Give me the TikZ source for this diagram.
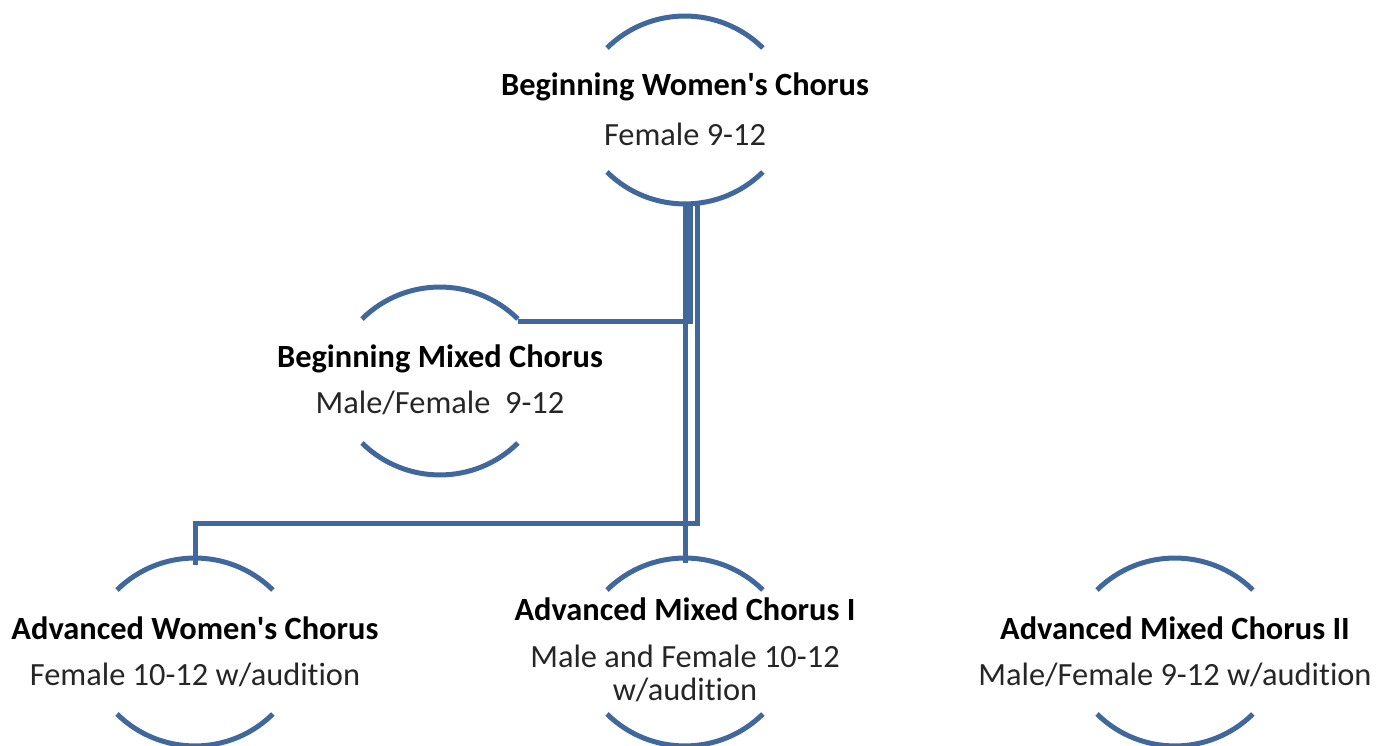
\documentclass[tikz,border=0pt]{standalone}
\usepackage{fontspec}
\setmainfont[Ligatures={NoCommon}]{Carlito}
\usetikzlibrary{calc}
\definecolor{arcblue}{RGB}{65,104,156}
\definecolor{subgray}{RGB}{38,38,38}
\tikzset{
  arcline/.style={draw=arcblue, line width=5pt},
  conn/.style={draw=arcblue, line width=5pt, line join=miter},
  title/.style={anchor=base, inner sep=0pt, font=\fontsize{32.4}{34}\selectfont\bfseries, text=black},
  sub/.style={anchor=base, inner sep=0pt, font=\fontsize{32.4}{33}\selectfont, text=subgray, align=center},
}
\begin{document}
\begin{tikzpicture}[x=1pt,y=1pt]
\useasboundingbox (0,0) rectangle (1389,746);
\fill[white] (0,0) rectangle (1389,746);
% circle centres
\coordinate (c1) at (685,636);
\coordinate (c2) at (440,365);
\coordinate (c3) at (195,94);
\coordinate (c4) at (685,94);
\coordinate (c5) at (1175,94);
% arcs
\foreach \c in {c1,c2,c3,c4,c5}{
  \draw[arcline] ($(\c)+(-78,62)$) arc[start angle=134.6, end angle=45.4, radius=111pt];
  \draw[arcline] ($(\c)+(-78,-62)$) arc[start angle=225.4, end angle=314.6, radius=111pt];
}
% connectors
\draw[conn] ($(c1)+(5,-94)$) |- ($(c2)+(78,59)$);
\draw[conn] ($(c1)+(0,-94)$) -- ($(c4)+(0,89)$);
\draw[conn] ($(c1)+(12,-94)$) |- ($(c3)+(0,128)$) -- ($(c3)+(0,87)$);
% texts
\node[title] (t1) at (685,650.5) {Beginning Women\textquotesingle s Chorus};
\node[sub]   (s1) at (685,600.5) {Female 9-12};
\node[title] (t2) at (440,378) {Beginning Mixed Chorus};
\node[sub]   (s2) at (440,332) {Male/Female\ \ 9-12};
\node[title] (t3) at (195,106.5) {Advanced Women\textquotesingle s Chorus};
\node[sub]   (s3) at (195,60.5) {Female 10-12 w/audition};
\node[title] (t4) at (685,125.5) {Advanced Mixed Chorus I};
\node[sub]   (s4) at (685,45) {Male and Female 10-12\\w/audition};
\node[title] (t5) at (1175,106.5) {Advanced Mixed Chorus II};
\node[sub]   (s5) at (1175,60.5) {Male/Female 9-12 w/audition};
\end{tikzpicture}
\end{document}
